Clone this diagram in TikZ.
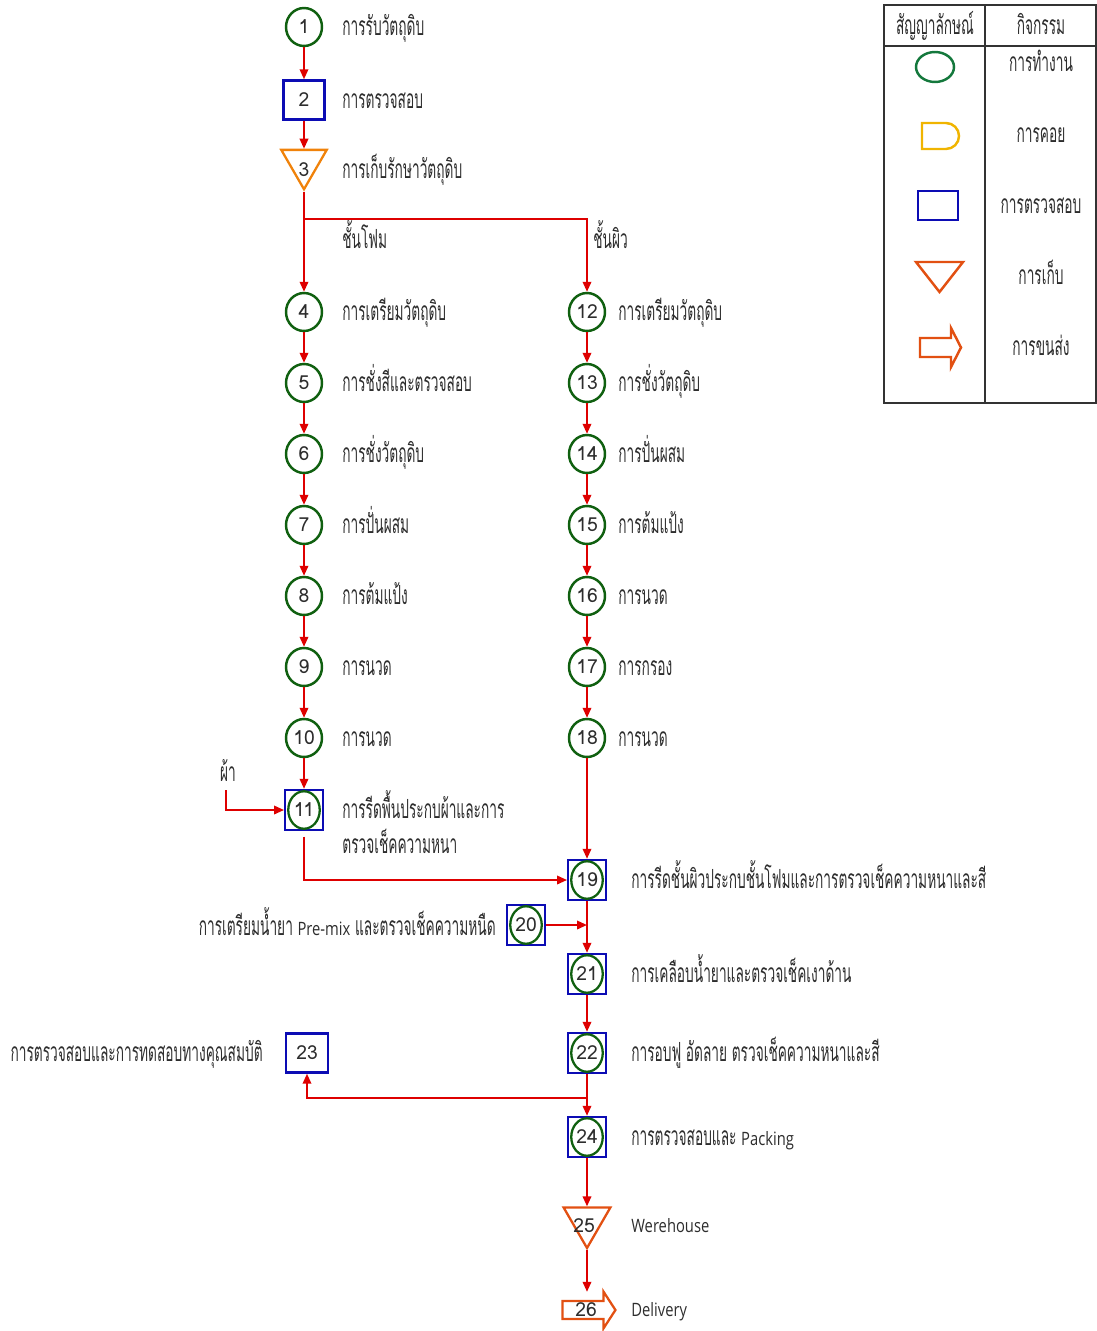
\documentclass[tikz,border=0pt]{standalone}
\usepackage{fontspec}
\setmainfont[Script=Thai, FakeStretch=0.52]{Loma}
\newfontfamily\latinfont[FakeStretch=0.8]{Open Sans}
\newfontfamily\numfont{Loma}
\usetikzlibrary{shapes.geometric,shapes.arrows,arrows.meta}

\definecolor{wgreen}{RGB}{16,96,16}
\definecolor{lgreen}{RGB}{20,120,60}
\definecolor{cblue}{RGB}{12,12,180}
\definecolor{flowred}{RGB}{222,0,0}
\definecolor{storeor}{RGB}{240,130,10}
\definecolor{shipor}{RGB}{226,80,18}
\definecolor{waitgold}{RGB}{240,180,0}
\definecolor{ink}{RGB}{45,45,45}

\tikzset{
  every node/.style={text=ink},
  num/.style={font=\numfont\fontsize{11}{12}\selectfont},
  work/.style={ellipse, draw=wgreen, line width=1.4pt, minimum width=0.72cm, minimum height=0.76cm, inner sep=0pt, num},
  workin/.style={ellipse, draw=wgreen, line width=1.3pt, minimum width=0.63cm, minimum height=0.75cm, inner sep=0pt, num},
  chk/.style={rectangle, draw=cblue, line width=1.4pt, minimum width=0.82cm, minimum height=0.78cm, inner sep=0pt, num},
  chkbox/.style={rectangle, draw=cblue, line width=1.4pt, minimum width=0.75cm, minimum height=0.80cm, inner sep=0pt},
  storetri/.style={regular polygon, regular polygon sides=3, shape border rotate=180, draw=#1, line width=1.3pt, minimum size=1.05cm, inner sep=0pt},
  shiparrow/.style={single arrow, draw=shipor, line width=1.3pt, minimum height=1.06cm, minimum width=0.74cm, single arrow head extend=0.17cm, single arrow tip angle=114, inner sep=0pt, num},
  flow/.style={draw=flowred, line width=1.1pt, -{Triangle[length=2mm,width=1.7mm]}},
  thai/.style={inner sep=0pt, font=\fontsize{15}{17}\selectfont, yshift=-0.17cm},
  lbl/.style={thai, anchor=base west},
  lblr/.style={thai, anchor=base east},
  legtxt/.style={thai, anchor=base},
  lat/.style={anchor=base west, inner sep=0pt, yshift=-0.13cm, font=\latinfont\fontsize{10.5}{13}\selectfont},
}

\begin{document}
\begin{tikzpicture}[x=0.02cm, y=-0.02cm]
\useasboundingbox (0,0) rectangle (1097,1331);

% ---- legend table ----
\draw[line width=0.6pt, black!80] (884,5) rectangle (1096,403);
\draw[line width=0.6pt, black!80] (985,5) -- (985,403);
\draw[line width=0.6pt, black!80] (884,46) -- (1096,46);
\node[legtxt] (hsym) at (935,26) {สัญญาลักษณ์};
\node[legtxt] (hact) at (1041,26) {กิจกรรม};
\draw[lgreen, line width=1.4pt] (935,67) ellipse [x radius=19, y radius=15];
\node[legtxt] (lw) at (1041,63) {การทำงาน};
\draw[waitgold, line width=1.4pt] (922,123) -- (946,123) arc[start angle=90, end angle=-90, radius=0.26cm] -- (922,149) -- cycle;
\node[legtxt] (ld) at (1041,134) {การคอย};
\draw[cblue, line width=1.4pt] (918,191) rectangle (958,220);
\node[legtxt] (li) at (1041,205) {การตรวจสอบ};
\draw[shipor, line width=1.4pt] (916,262) -- (963,262) -- (939.5,292) -- cycle;
\node[legtxt] (ls) at (1041,276) {การเก็บ};
\draw[shipor, line width=1.4pt] (920,338) -- (951,338) -- (951,328) -- (961,347.5) -- (951,367) -- (951,357) -- (920,357) -- cycle;
\node[legtxt] (lt) at (1041,347) {การขนส่ง};

% ---- common steps ----
\node[work] (n1) at (304,27) {1};
\node[chk] (n2) at (304,100) {2};
\node[storetri=storeor] (n3) at (304,163) {};
\node[num] (t3) at (304,170) {3};
\node[lbl] at (342,27) {การรับวัตถุดิบ};
\node[lbl] at (342,100) {การตรวจสอบ};
\node[lbl] at (342,170) {การเก็บรักษาวัตถุดิบ};

% ---- foam layer (left column) ----
\node[work] (n4) at (304,312) {4};
\node[work] (n5) at (304,383) {5};
\node[work] (n6) at (304,454) {6};
\node[work] (n7) at (304,525) {7};
\node[work] (n8) at (304,596) {8};
\node[work] (n9) at (304,667) {9};
\node[work] (n10) at (304,738) {10};
\node[chkbox] (n11) at (304,810) {};
\node[workin] at (n11) {11};
\node[lbl] at (342,240) {ชั้นโฟม};
\node[lbl] at (342,312) {การเตรียมวัตถุดิบ};
\node[lbl] at (342,383) {การชั่งสีและตรวจสอบ};
\node[lbl] at (342,454) {การชั่งวัตถุดิบ};
\node[lbl] at (342,525) {การปั่นผสม};
\node[lbl] at (342,596) {การต้มแป้ง};
\node[lbl] at (342,667) {การนวด};
\node[lbl] at (342,738) {การนวด};
\node[lbl] at (342,810) {การรีดพื้นประกบผ้าและการ};
\node[lbl] at (342,845) {ตรวจเช็คความหนา};
\node[legtxt] (fab) at (228,773) {ผ้า};
\coordinate (fabin) at (226,790);

% ---- skin layer (right column) ----
\node[work] (n12) at (587,312) {12};
\node[work] (n13) at (587,383) {13};
\node[work] (n14) at (587,454) {14};
\node[work] (n15) at (587,525) {15};
\node[work] (n16) at (587,596) {16};
\node[work] (n17) at (587,667) {17};
\node[work] (n18) at (587,738) {18};
\node[lbl] at (593,240) {ชั้นผิว};
\node[lbl] at (618,312) {การเตรียมวัตถุดิบ};
\node[lbl] at (618,383) {การชั่งวัตถุดิบ};
\node[lbl] at (618,454) {การปั่นผสม};
\node[lbl] at (618,525) {การต้มแป้ง};
\node[lbl] at (618,596) {การนวด};
\node[lbl] at (618,667) {การกรอง};
\node[lbl] at (618,738) {การนวด};

% ---- lamination and finishing ----
\node[chkbox] (n19) at (587,880) {};
\node[workin] at (n19) {19};
\node[chkbox] (n20) at (526,925) {};
\node[workin] at (n20) {20};
\node[chkbox] (n21) at (587,974) {};
\node[workin] at (n21) {21};
\node[chkbox] (n22) at (587,1053) {};
\node[workin] at (n22) {22};
\node[chk, minimum width=0.84cm] (n23) at (307,1053) {23};
\node[chkbox] (n24) at (587,1137) {};
\node[workin] at (n24) {24};
\node[storetri=shipor, minimum size=1.08cm] (n25) at (587,1221) {};
\node[num] (t25) at (584,1226) {25};
\node[shiparrow] (n26) at (586,1310) {26};

\node[lbl] at (631,880) {การรีดชั้นผิวประกบชั้นโฟมและการตรวจเช็คความหนาและสี};
\node[lblr] at (496,927) {การเตรียมน้ำยา {\latinfont\fontsize{10.5}{13}\selectfont Pre-mix} และตรวจเช็คความหนืด};
\node[lbl] at (631,974) {การเคลือบน้ำยาและตรวจเช็คเงาด้าน};
\node[lbl] at (631,1053) {การอบฟู อัดลาย ตรวจเช็คความหนาและสี};
\node[lblr] at (263,1053) {การตรวจสอบและการทดสอบทางคุณสมบัติ};
\node[lbl] at (631,1137) {การตรวจสอบและ {\latinfont\fontsize{10.5}{13}\selectfont Packing}};
\node[lat] at (631,1226) {Werehouse};
\node[lat] at (631,1310) {Delivery};

% ---- connectors ----
\coordinate (split) at (304,219);
\coordinate (split2) at (587,1098);
\coordinate (n26top) at ([yshift=0.16cm]n26.north);
\draw[flow] (n1) -- (n2);
\draw[flow] (n2) -- (n3);
\draw[flow] (n3.corner 1) -- (n4);
\draw[flow] (split) -| (n12);
\draw[flow] (n4) -- (n5);
\draw[flow] (n5) -- (n6);
\draw[flow] (n6) -- (n7);
\draw[flow] (n7) -- (n8);
\draw[flow] (n8) -- (n9);
\draw[flow] (n9) -- (n10);
\draw[flow] (n10) -- (n11);
\draw[flow] (fabin) |- (n11);
\draw[flow] (n12) -- (n13);
\draw[flow] (n13) -- (n14);
\draw[flow] (n14) -- (n15);
\draw[flow] (n15) -- (n16);
\draw[flow] (n16) -- (n17);
\draw[flow] (n17) -- (n18);
\draw[flow] (n18) -- (n19);
\draw[flow, shorten <=3pt] (n11.south) |- (n19);
\draw[flow] (n20) -- (n20 -| n19);
\draw[flow] (n19) -- (n21);
\draw[flow] (n21) -- (n22);
\draw[flow] (n22) -- (n24);
\draw[flow] (split2) -| (n23);
\draw[flow] (n24) -- (n25);
\draw[flow] (n25.corner 1) -- (n25.corner 1 |- n26top);
\end{tikzpicture}
\end{document}
